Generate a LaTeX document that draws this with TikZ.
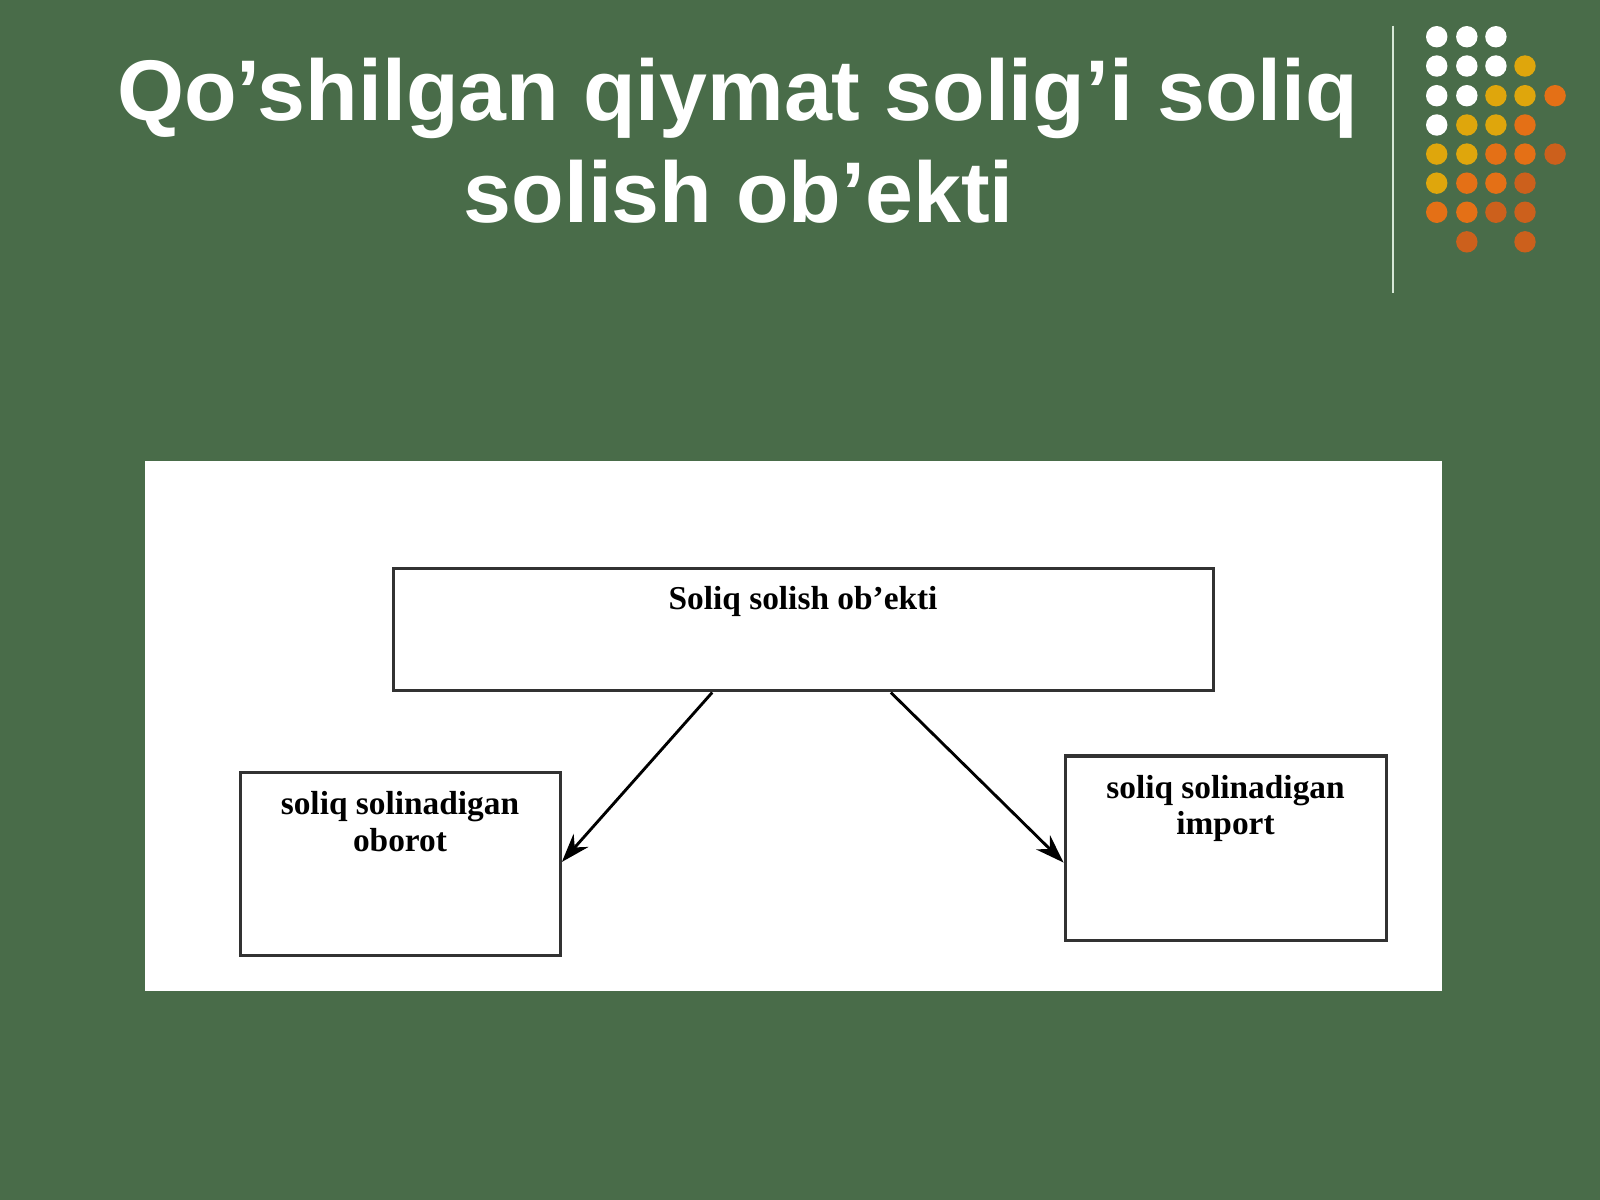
\documentclass[tikz,border=0pt]{standalone}
\usepackage{fontspec}
\setmainfont{Liberation Serif}
\setsansfont{Liberation Sans}
\usetikzlibrary{calc,arrows.meta}
\definecolor{bggreen}{RGB}{73,108,73}
\definecolor{dgold}{RGB}{223,166,12}
\definecolor{dorange}{RGB}{228,112,22}
\definecolor{ddark}{RGB}{204,96,28}
\definecolor{vline}{RGB}{215,232,215}
\definecolor{boxline}{RGB}{50,50,50}
\tikzset{
  boxnode/.style={draw=boxline, line width=0.9pt, fill=white, inner sep=0pt},
  lbl/.style={font=\fontsize{9.3}{10.2}\selectfont\bfseries, text=black, align=center, inner sep=0pt},
  arr/.style={-{Stealth[length=8pt,width=5.5pt]}, line width=0.8pt, black},
  dotw/.style={fill=white},
  dotg/.style={fill=dgold},
  doto/.style={fill=dorange},
  dotd/.style={fill=ddark},
  titlefont/.style={font=\sffamily\bfseries\fontsize{24}{28.45}\selectfont, text=white, align=center, inner sep=0pt}
}
\begin{document}
\begin{tikzpicture}[x=0.01cm,y=-0.01cm]
\fill[bggreen] (0,0) rectangle (1568,1176);
\useasboundingbox (0,0) rectangle (1568,1176);
% title
\node[titlefont, anchor=base] (t1) at (723,118) {Qo’shilgan qiymat solig’i soliq};
\node[titlefont, anchor=base] (t2) at (724,218) {solish ob’ekti};
% vertical line
\draw[vline, line width=0.6pt] (1365,25) -- (1365,287);
% dots
\def\R{10.5}
\foreach \x/\y/\s in {
 1408/36/dotw,1437.5/36/dotw,1466/36/dotw,
 1408/64.7/dotw,1437.5/64.7/dotw,1466/64.7/dotw,1494.5/64.7/dotg,
 1408/93.8/dotw,1437.5/93.8/dotw,1466/93.8/dotg,1494.5/93.8/dotg,1524/93.8/doto,
 1408/122.5/dotw,1437.5/122.5/dotg,1466/122.5/dotg,1494.5/122.5/doto,
 1408/151/dotg,1437.5/151/dotg,1466/151/doto,1494.5/151/doto,1524/151/dotd,
 1408/179.5/dotg,1437.5/179.5/doto,1466/179.5/doto,1494.5/179.5/dotd,
 1408/208/doto,1437.5/208/doto,1466/208/dotd,1494.5/208/dotd,
 1437.5/237/dotd,1494.5/237/dotd}
 {\fill[\s] (\x,\y) circle[radius=\R];}
% white panel
\fill[white] (142,452) rectangle (1413,971);
% boxes
\node[boxnode, minimum width=8.03cm, minimum height=1.20cm] (top) at (787.5,617) {};
\node[lbl, anchor=base] (toplbl) at (787,597) {Soliq solish ob’ekti};
\node[boxnode, minimum width=3.13cm, minimum height=1.79cm] (left) at (392.5,846.5) {};
\node[lbl, anchor=north] (leftlbl) at (392,775) {soliq solinadigan\\oborot};
\node[boxnode, minimum width=3.15cm, minimum height=1.81cm] (right) at (1201.5,831.5) {};
\node[lbl, anchor=north] (rightlbl) at (1201,759) {soliq solinadigan\\import};
% arrows
\draw[arr] ($(top.south west)!0.389!(top.south east)$) -- ($(left.north east)!0.49!(left.south east)$);
\draw[arr] ($(top.south west)!0.606!(top.south east)$) -- ($(right.north west)!0.575!(right.south west)$);
\end{tikzpicture}
\end{document}
